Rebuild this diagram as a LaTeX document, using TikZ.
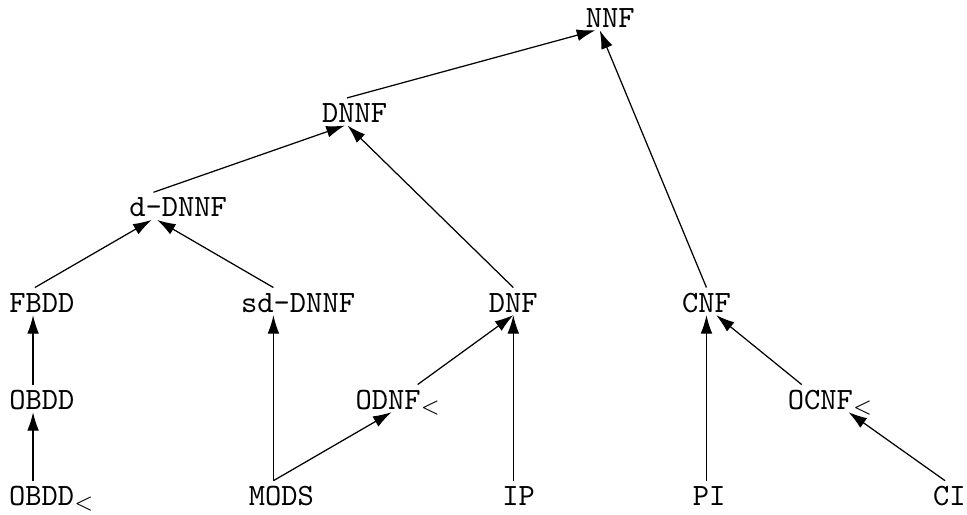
\documentclass[tikz,border=0pt]{standalone}
\usetikzlibrary{arrows.meta}
\begin{document}
\begin{tikzpicture}[
    lang/.style={font=\ttfamily, inner sep=0.5pt, text height=7.2pt, text depth=0.3pt, anchor=base},
    arr/.style={-{Latex[length=6pt,width=3.8pt]}}]

    \useasboundingbox (0,0) rectangle (10.964,5.828);

    \node[lang] (NNF) at (6.92,5.52) {NNF};
    \node[lang] (DNNF) at (4.02,4.44) {DNNF};
    \node[lang] (d_DNNF) at (2.02,3.37) {d-DNNF};

    \node[lang] (FBDD) at (0.475,2.29) {FBDD};
    \node[lang] (sd_DNNF) at (3.38,2.29) {sd-DNNF};
    \node[lang] (DNF) at (5.82,2.29) {DNF};
    \node[lang] (CNF) at (8.01,2.29) {CNF};

    \node[lang] (OBDD) at (0.475,1.19) {OBDD};
    \node[lang] (ODNF_lt) at (4.52,1.19) {ODNF$_<$};
    \node[lang] (OCNF_lt) at (9.42,1.19) {OCNF$_<$};

    \node[lang] (OBDD_lt) at (0.59,0.10) {OBDD$_<$};
    \node[lang] (MODS) at (3.19,0.10) {MODS};
    \node[lang] (IP) at (5.88,0.10) {IP};
    \node[lang] (PI) at (8.04,0.10) {PI};
    \node[lang] (CI) at (10.765,0.10) {CI};

    \draw[arr] ([xshift=-0.085cm]DNNF.north) to ([xshift=-0.17cm]NNF.south);
    \draw[arr] (CNF.north) to ([xshift=-0.12cm]NNF.south);
    \draw[arr] ([xshift=-0.28cm]d_DNNF.north) to ([xshift=-0.11cm]DNNF.south);
    \draw[arr] (DNF.north) to ([xshift=-0.08cm]DNNF.south);
    \draw[arr] ([xshift=-0.08cm]FBDD.north) to ([xshift=-0.30cm]d_DNNF.south);
    \draw[arr] ([xshift=-0.28cm]sd_DNNF.north) to ([xshift=-0.24cm]d_DNNF.south);
    \draw[arr] ([xshift=-0.1cm]OBDD.north) to ([xshift=-0.1cm]FBDD.south);
    \draw[arr] ([xshift=-0.215cm]OBDD_lt.north) to ([xshift=-0.1cm]OBDD.south);

    \draw[arr] ([xshift=-0.09cm]MODS.north) to ([xshift=-0.28cm]sd_DNNF.south);
    \draw[arr] ([xshift=-0.09cm]MODS.north) to ([xshift=-0.08cm]ODNF_lt.south);
    \draw[arr] ([xshift=0.215cm]ODNF_lt.north) to (DNF.south);
    \draw[arr] ([xshift=-0.06cm]IP.north) to (DNF.south);
    \draw[arr] ([xshift=-0.03cm]PI.north) to (CNF.south);
    \draw[arr] ([xshift=-0.33cm]OCNF_lt.north) to ([xshift=0.11cm]CNF.south);
    \draw[arr] ([xshift=-0.05cm]CI.north) to ([xshift=0.2cm]OCNF_lt.south);
\end{tikzpicture}
\end{document}
